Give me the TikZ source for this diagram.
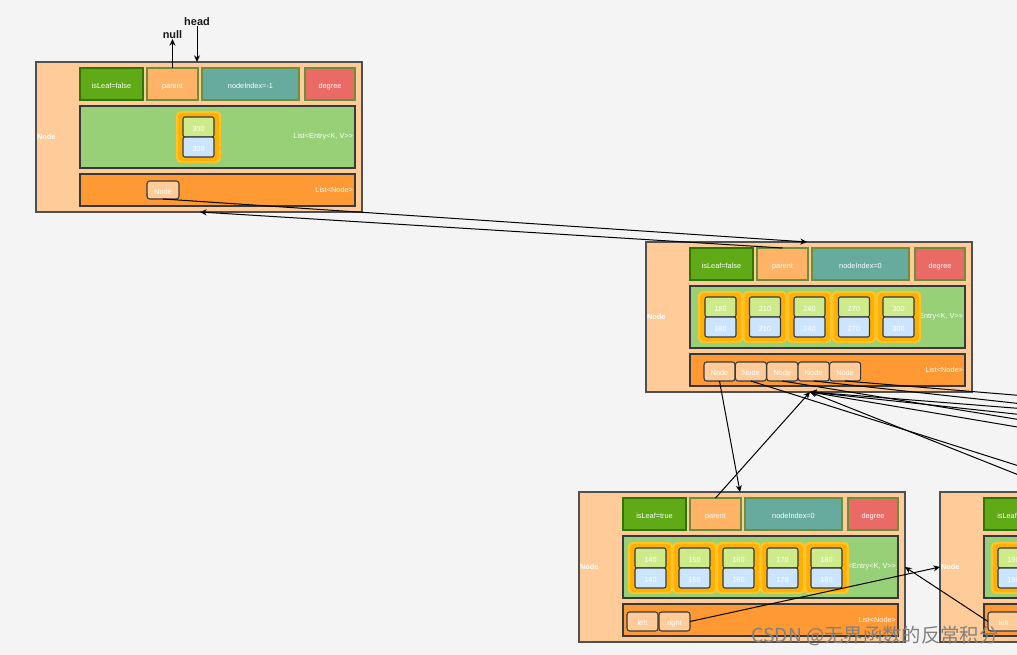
\documentclass[tikz,border=0pt]{standalone}
\usepackage{fontspec}
\setmainfont{Liberation Sans}
\newfontfamily\cjkfont{Noto Sans CJK SC}
\usetikzlibrary{arrows.meta}
\definecolor{bg}{HTML}{F4F4F4}
\definecolor{outerfill}{HTML}{FFCC99}
\definecolor{outerdraw}{HTML}{505050}
\definecolor{leaffill}{HTML}{60A917}
\definecolor{leafdraw}{HTML}{2D7600}
\definecolor{parentfill}{HTML}{FFB366}
\definecolor{olive}{HTML}{6D8F3B}
\definecolor{idxfill}{HTML}{67AB9F}
\definecolor{degfill}{HTML}{EA6B66}
\definecolor{listgreen}{HTML}{97D077}
\definecolor{listorange}{HTML}{FF9933}
\definecolor{entfill}{HTML}{FFB000}
\definecolor{entdraw}{HTML}{FFC42A}
\definecolor{keyfill}{HTML}{CDEB8B}
\definecolor{valfill}{HTML}{CCE5FF}
\definecolor{darkline}{HTML}{36393D}
\newcommand\fs{\fontsize{5.5}{6}\selectfont}
\tikzset{
  every node/.style={inner sep=0pt, outer sep=0pt},
  ctext/.style={text=white, font=\fs, text height=0.62em, text depth=0pt},
  lbl/.style={text=white, font=\fs},
  outerbox/.style={draw=outerdraw, fill=outerfill, line width=0.8pt},
  leafbox/.style={draw=leafdraw, fill=leaffill, line width=1pt, ctext},
  parbox/.style={draw=olive, fill=parentfill, line width=1pt, ctext},
  idxbox/.style={draw=olive, fill=idxfill, line width=1pt, ctext},
  degbox/.style={draw=olive, fill=degfill, line width=1pt, ctext},
  entrow/.style={draw=darkline, fill=listgreen, line width=1pt},
  lstrow/.style={draw=darkline, fill=listorange, line width=1pt},
  entbox/.style={draw=entdraw, fill=entfill, line width=1.6pt, rounded corners=3pt},
  keybox/.style={draw=darkline, fill=keyfill, line width=0.8pt, rounded corners=1.5pt, ctext},
  valbox/.style={draw=darkline, fill=valfill, line width=0.8pt, rounded corners=1.5pt, ctext},
  lnbox/.style={draw=darkline, fill=outerfill, line width=0.8pt, rounded corners=2pt, ctext},
  conn/.style={draw=black, line width=0.75pt, -{Stealth[length=5pt,width=4.5pt]}},
  toplbl/.style={text=black!90, font=\bfseries\fontsize{8.2}{9}\selectfont},
}
\newcommand\rbox[7]{\node[#6, minimum width={((#4)-(#2))*0.75pt}, minimum height={((#5)-(#3))*0.75pt}] (#1) at ({((#2)+(#4))/2},{((#3)+(#5))/2}) {#7};}
\newcommand\treenode[5]{%
\begin{scope}[shift={(#2,#3)}]
  \rbox{#1}{0}{0}{326}{150}{outerbox}{}
  \node[lbl, font=\bfseries\fs, anchor=west] (#1-lbl) at (1,75) {Node};
  \rbox{#1-leaf}{44}{6}{107}{38}{leafbox}{#4}
  \rbox{#1-par}{111}{6}{162}{38}{parbox}{parent}
  \rbox{#1-idx}{166}{6}{263}{38}{idxbox}{#5}
  \rbox{#1-deg}{269}{6}{319}{38}{degbox}{degree}
  \rbox{#1-ent}{44}{44}{319}{106}{entrow}{}
  \node[lbl, anchor=east] (#1-entl) at (317,75) {List<Entry<K, V>{}>};
  \rbox{#1-lst}{44}{112}{319}{144}{lstrow}{}
  \node[lbl, anchor=east] (#1-lstl) at (317,128) {List<Node>};
  \coordinate (#1-in) at (161,0);
  \coordinate (#1-bot) at (164,150);
\end{scope}}
\newcommand\entry[4]{%
  \rbox{#1}{#2}{#3}{(#2)+43}{(#3)+50}{entbox}{}
  \rbox{#1-k}{(#2)+6}{(#3)+5}{(#2)+37}{(#3)+25}{keybox}{#4}
  \rbox{#1-v}{(#2)+6}{(#3)+25}{(#2)+37}{(#3)+45}{valbox}{#4}}
\begin{document}
\begin{tikzpicture}[x=0.75pt, y=-0.75pt]
\useasboundingbox (0,0) rectangle (1017,655);
\clip (0,0) rectangle (1017,655);
\fill[bg] (0,0) rectangle (1017,655);

% top-left (root)
\treenode{t}{36}{62}{isLeaf=false}{nodeIndex=-1}
\entry{t-e0}{177}{112}{300}
\rbox{t-nb}{147}{181}{179}{199}{lnbox}{Node}

% middle
\treenode{m}{646}{242}{isLeaf=false}{nodeIndex=0}
\foreach \v [count=\i from 0] in {180,210,240,270,300} {\entry{m-e\i}{699+44.5*\i}{292}{\v}}
\foreach \i in {1,...,5} {\rbox{m-nb\i}{704+31.4*(\i-1)}{362}{735+31.4*(\i-1)}{381}{lnbox}{Node}}

% bottom-left leaf
\treenode{b}{579}{492}{isLeaf=true}{nodeIndex=0}
\foreach \v [count=\i from 0] in {140,150,160,170,180} {\entry{b-e\i}{629+44*\i}{543}{\v}}
\rbox{b-lf}{627}{612}{658}{631}{lnbox}{left}
\rbox{b-rt}{659}{612}{690}{631}{lnbox}{right}

% right leaf (partly visible)
\treenode{r}{940}{492}{isLeaf=true}{nodeIndex=0}
\entry{r-e0}{992}{543}{190}
\rbox{r-lf}{988}{612}{1019}{631}{lnbox}{left}

% off-picture children
\coordinate (c3-in) at (1463,492);
\coordinate (c3-par) at (1438,498);
\coordinate (c4-in) at (1824,492);
\coordinate (c4-par) at (1799,498);
\coordinate (c5-in) at (2185,492);
\coordinate (c5-par) at (2160,498);

% labels above root
\node[toplbl] (head) at (197,22) {head};
\node[toplbl] (null) at (172.5,35) {null};

% connectors
\draw[conn] (head.south) -- (t-in);
\draw[conn] (t-par.north) -- (null.south);
\draw[conn] (t-nb.south) -- (m-in);
\draw[conn] (m-par.north) -- (t-bot);
\draw[conn] (m-nb1.south) -- (b-in);
\draw[conn] (b-par.north) -- (m-bot);
\draw[conn] (m-nb2.south) -- (r-in);
\draw[conn] (r-par.north) -- (m-bot);
\draw[conn] (m-nb3.south) -- (c3-in);
\draw[conn] (c3-par) -- (m-bot);
\draw[conn] (m-nb4.south) -- (c4-in);
\draw[conn] (c4-par) -- (m-bot);
\draw[conn] (m-nb5.south) -- (c5-in);
\draw[conn] (c5-par) -- (m-bot);
\draw[conn] (b-rt.east) -- (r.west);
\draw[conn] (r-lf.west) -- (b.east);

% watermark
\node[text=black!50, font=\cjkfont\fontsize{14.5}{16}\selectfont] (wm) at (875,636) {CSDN @无界函数的反常积分};
\end{tikzpicture}
\end{document}
